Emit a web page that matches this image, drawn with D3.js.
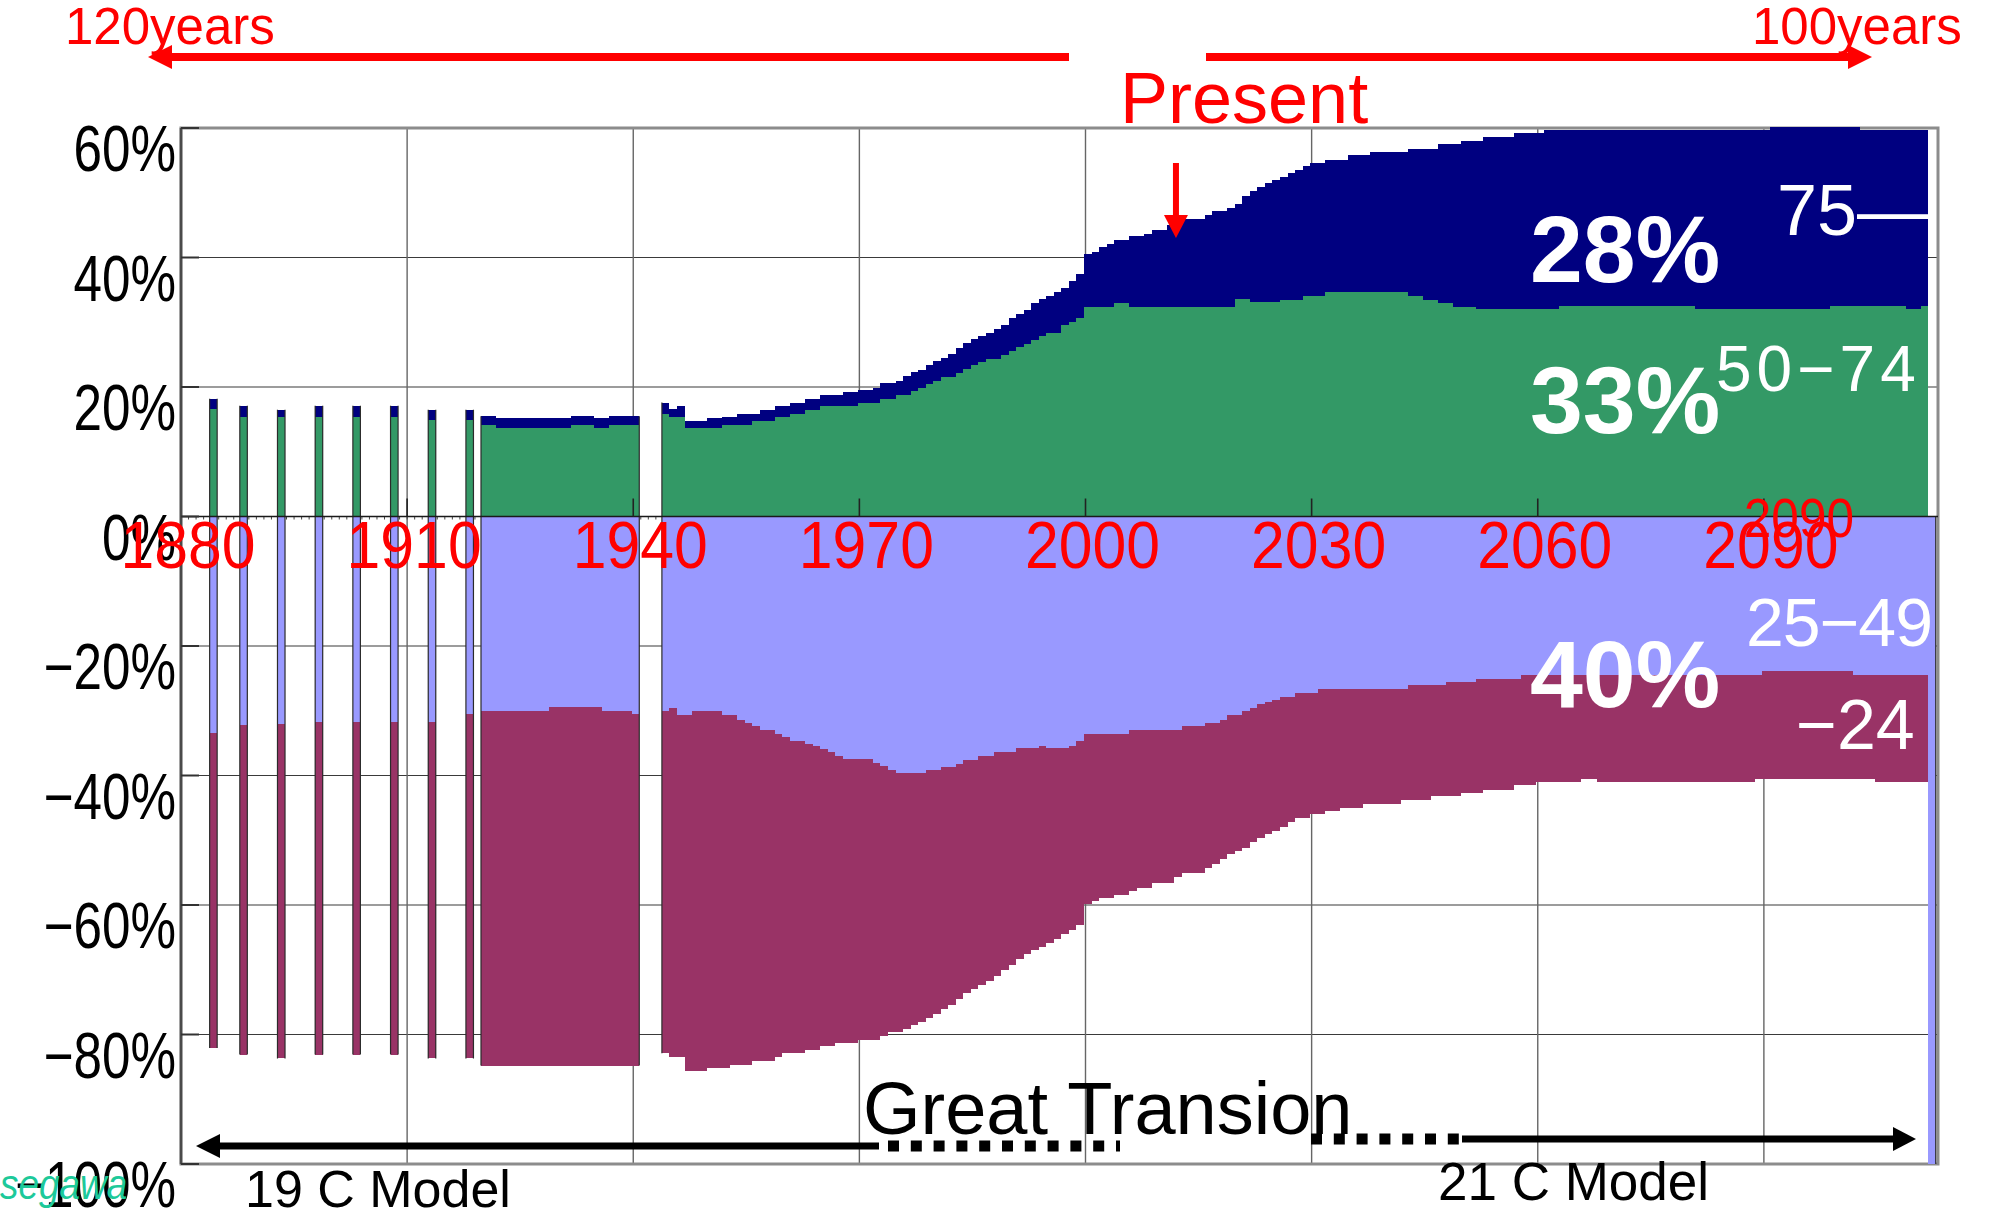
<!DOCTYPE html>
<html lang="en">
<head>
<meta charset="utf-8">
<title>Population by age group, 1880–2110</title>
<script src="https://cdn.jsdelivr.net/npm/d3@7"></script>
<style>
  html, body { margin: 0; padding: 0; background: #fff; }
  svg { display: block; font-family: "Liberation Sans", Arial, Helvetica, sans-serif; }
</style>
</head>
<body>
<svg id="chart" width="1990" height="1211"></svg>
<script>
// One bar per year (census years early on, then annual data and projection)
const years = [
  1884, 1888, 1893, 1898, 1903, 1908, 1913, 1918,
  1920, 1921, 1922, 1923, 1924, 1925, 1926, 1927, 1928, 1929,
  1930, 1931, 1932, 1933, 1934, 1935, 1936, 1937, 1938, 1939, 1940,
  1944, 1945, 1946, 1947, 1948, 1949,
  1950, 1951, 1952, 1953, 1954, 1955, 1956, 1957, 1958, 1959,
  1960, 1961, 1962, 1963, 1964, 1965, 1966, 1967, 1968, 1969,
  1970, 1971, 1972, 1973, 1974, 1975, 1976, 1977, 1978, 1979,
  1980, 1981, 1982, 1983, 1984, 1985, 1986, 1987, 1988, 1989,
  1990, 1991, 1992, 1993, 1994, 1995, 1996, 1997, 1998, 1999,
  2000, 2001, 2002, 2003, 2004, 2005, 2006, 2007, 2008, 2009,
  2010, 2011, 2012, 2013, 2014, 2015, 2016, 2017, 2018, 2019,
  2020, 2021, 2022, 2023, 2024, 2025, 2026, 2027, 2028, 2029,
  2030, 2031, 2032, 2033, 2034, 2035, 2036, 2037, 2038, 2039,
  2040, 2041, 2042, 2043, 2044, 2045, 2046, 2047, 2048, 2049,
  2050, 2051, 2052, 2053, 2054, 2055, 2056, 2057, 2058, 2059,
  2060, 2061, 2062, 2063, 2064, 2065, 2066, 2067, 2068, 2069,
  2070, 2071, 2072, 2073, 2074, 2075, 2076, 2077, 2078, 2079,
  2080, 2081, 2082, 2083, 2084, 2085, 2086, 2087, 2088, 2089,
  2090, 2091, 2092, 2093, 2094, 2095, 2096, 2097, 2098, 2099,
  2100, 2101, 2102, 2103, 2104, 2105, 2106, 2107, 2108, 2109,
  2110, 2111, 2112
];

// Share of total population by age group, % (ages 50+ plotted upward, under 50 downward)
const age50to74 = [
  16.6, 15.3, 15.3, 15.3, 15.3, 15.3, 14.9, 14.9,
  14.2, 14.2, 13.6, 13.6, 13.6, 13.6, 13.6, 13.6, 13.6, 13.6,
  13.6, 13.6, 14.2, 14.2, 14.2, 13.6, 13.6, 14.2, 14.2, 14.2, 14.2,
  15.9, 15.3, 15.3, 13.6, 13.6, 13.6,
  13.6, 13.6, 14.2, 14.2, 14.2, 14.2, 14.7, 14.8, 14.8, 15.3,
  15.3, 15.9, 15.9, 16.5, 16.5, 17.1, 17.1, 17.1, 17.1, 17.1,
  17.6, 17.6, 17.6, 18.2, 18.2, 18.8, 18.8, 19.4, 19.9, 20.4,
  21.0, 21.6, 21.6, 22.2, 22.8, 23.4, 23.9, 24.4, 24.4, 24.9,
  25.5, 26.2, 26.7, 27.3, 27.9, 28.3, 28.3, 29.6, 30.1, 30.6,
  32.3, 32.3, 32.3, 32.3, 33.0, 33.0, 32.3, 32.3, 32.3, 32.3,
  32.3, 32.3, 32.3, 32.3, 32.3, 32.3, 32.3, 32.3, 32.3, 32.3,
  33.6, 33.6, 33.1, 33.1, 33.1, 33.1, 33.5, 33.4, 33.4, 34.0,
  34.0, 34.0, 34.6, 34.6, 34.6, 34.6, 34.6, 34.6, 34.6, 34.6,
  34.6, 34.6, 34.6, 34.0, 34.0, 33.4, 33.4, 33.0, 33.0, 32.3,
  32.3, 32.3, 32.0, 32.0, 32.0, 32.0, 32.0, 32.0, 32.0, 32.0,
  32.0, 32.0, 32.0, 32.5, 32.5, 32.5, 32.5, 32.5, 32.5, 32.5,
  32.5, 32.5, 32.5, 32.5, 32.5, 32.5, 32.5, 32.5, 32.5, 32.5,
  32.5, 32.0, 32.0, 32.0, 32.0, 32.0, 32.0, 32.0, 32.0, 32.0,
  32.0, 32.0, 32.0, 32.0, 32.0, 32.0, 32.0, 32.0, 32.0, 32.5,
  32.5, 32.5, 32.5, 32.5, 32.5, 32.5, 32.5, 32.5, 32.5, 32.0,
  32.0, 32.5, 0
];
const age75plus = [
  1.6, 1.8, 1.2, 1.8, 1.8, 1.8, 1.6, 1.6,
  1.3, 1.3, 1.6, 1.6, 1.6, 1.6, 1.6, 1.6, 1.6, 1.6,
  1.6, 1.6, 1.3, 1.3, 1.3, 1.6, 1.6, 1.3, 1.3, 1.3, 1.3,
  1.7, 1.3, 1.8, 1.2, 1.2, 1.2,
  1.6, 1.6, 1.2, 1.2, 1.7, 1.7, 1.2, 1.7, 1.7, 1.8,
  1.8, 1.7, 1.7, 1.7, 1.7, 1.7, 1.7, 1.7, 2.2, 2.2,
  1.9, 1.9, 2.3, 2.4, 2.4, 2.2, 2.9, 2.9, 2.8, 3.0,
  3.0, 2.9, 3.5, 3.9, 4.0, 4.0, 4.0, 4.0, 4.6, 4.7,
  5.1, 5.1, 5.2, 5.7, 5.7, 5.8, 6.4, 5.7, 6.3, 6.9,
  8.2, 8.6, 9.3, 9.8, 9.7, 9.7, 11.0, 11.0, 11.4, 12.0,
  12.0, 12.7, 12.7, 13.6, 13.6, 13.6, 14.3, 14.9, 14.9, 15.4,
  14.7, 15.9, 17.2, 17.8, 18.4, 18.9, 19.0, 19.6, 20.1, 20.1,
  20.6, 20.6, 20.5, 20.5, 20.5, 21.2, 21.2, 21.2, 21.7, 21.7,
  21.7, 21.7, 21.7, 22.8, 22.8, 23.4, 23.4, 24.5, 24.5, 25.2,
  25.7, 25.7, 26.0, 26.6, 26.6, 26.6, 26.6, 27.2, 27.2, 27.2,
  27.2, 27.7, 27.7, 27.2, 27.2, 27.2, 27.2, 27.2, 27.2, 27.2,
  27.2, 27.2, 27.2, 27.2, 27.2, 27.2, 27.2, 27.2, 27.2, 27.2,
  27.2, 27.7, 27.7, 27.7, 27.7, 27.7, 27.7, 27.7, 27.7, 27.7,
  27.7, 28.2, 28.2, 28.2, 28.2, 28.2, 28.2, 28.2, 28.2, 27.7,
  27.7, 27.7, 27.7, 27.2, 27.2, 27.2, 27.2, 27.2, 27.2, 27.7,
  27.7, 27.2, 0
];
const age25to49 = [
  33.4, 32.2, 32.1, 31.7, 31.7, 31.7, 31.7, 30.5,
  30.0, 30.0, 30.0, 30.0, 30.0, 30.0, 30.0, 30.0, 30.0, 29.4,
  29.4, 29.4, 29.4, 29.4, 29.4, 29.4, 30.0, 30.0, 30.0, 30.0, 30.5,
  30.0, 29.5, 30.6, 30.6, 30.1, 30.1,
  30.1, 30.1, 30.6, 30.6, 31.4, 31.9, 32.4, 32.9, 32.9, 33.6,
  34.0, 34.6, 34.6, 35.2, 35.4, 35.9, 36.4, 37.0, 37.5, 37.5,
  37.5, 37.5, 38.0, 38.5, 39.1, 39.6, 39.6, 39.6, 39.6, 39.2,
  39.1, 38.7, 38.7, 38.2, 37.6, 37.6, 37.0, 37.0, 36.4, 36.4,
  36.4, 35.8, 35.8, 35.8, 35.4, 35.8, 35.8, 35.8, 35.4, 34.7,
  33.6, 33.6, 33.6, 33.6, 33.6, 33.6, 32.9, 32.9, 32.9, 32.9,
  32.9, 32.9, 32.9, 32.4, 32.4, 32.4, 31.9, 31.9, 31.4, 30.6,
  30.6, 30.1, 29.5, 29.0, 28.6, 28.4, 27.8, 27.8, 27.3, 27.3,
  27.3, 26.7, 26.7, 26.7, 26.7, 26.7, 26.7, 26.7, 26.7, 26.7,
  26.7, 26.7, 26.7, 26.1, 26.1, 26.1, 26.1, 26.1, 25.5, 25.5,
  25.5, 25.5, 25.1, 25.1, 25.1, 25.1, 25.1, 25.1, 24.5, 24.5,
  24.5, 24.5, 24.5, 24.5, 24.5, 24.5, 24.5, 24.5, 24.5, 24.5,
  24.5, 24.5, 24.5, 24.5, 24.5, 24.5, 24.5, 24.5, 24.5, 24.5,
  24.5, 24.5, 24.5, 24.5, 24.5, 24.5, 24.5, 24.5, 24.5, 24.5,
  23.9, 23.9, 23.9, 23.9, 23.9, 23.9, 23.9, 23.9, 23.9, 23.9,
  23.9, 23.9, 24.5, 24.5, 24.5, 24.5, 24.5, 24.5, 24.5, 24.5,
  24.5, 24.5, 100
];
const age0to24 = [
  48.7, 50.9, 51.6, 51.4, 51.4, 51.4, 52.0, 53.2,
  54.8, 54.8, 54.8, 54.8, 54.8, 54.8, 54.8, 54.8, 54.8, 55.4,
  55.4, 55.4, 55.4, 55.4, 55.4, 55.4, 54.8, 54.8, 54.8, 54.8, 54.3,
  52.9, 53.9, 52.8, 55.1, 55.6, 55.6,
  55.1, 55.1, 54.6, 54.1, 53.3, 52.8, 51.7, 51.2, 51.2, 49.8,
  48.9, 48.3, 48.3, 47.2, 47.0, 45.9, 45.4, 44.3, 43.8, 43.8,
  43.3, 43.3, 42.8, 41.8, 40.5, 40.0, 39.5, 38.9, 38.4, 38.3,
  37.7, 37.4, 36.7, 36.3, 36.0, 35.3, 35.4, 34.7, 34.6, 33.7,
  32.8, 32.6, 31.7, 31.1, 31.1, 30.1, 29.4, 28.7, 28.4, 28.4,
  26.3, 25.8, 25.3, 25.3, 24.8, 24.8, 24.9, 24.4, 24.4, 23.7,
  23.7, 23.7, 22.8, 22.6, 22.6, 22.6, 22.4, 21.7, 21.5, 21.6,
  21.1, 21.1, 20.8, 20.7, 20.5, 20.1, 20.1, 19.4, 19.3, 19.3,
  18.7, 19.3, 18.8, 18.8, 18.3, 18.3, 18.3, 17.7, 17.7, 17.7,
  17.7, 17.7, 17.1, 17.7, 17.7, 17.7, 17.1, 17.1, 17.7, 17.7,
  17.2, 17.2, 17.6, 17.1, 17.1, 17.1, 17.1, 16.4, 17.0, 17.0,
  16.5, 16.5, 16.5, 16.5, 16.5, 16.5, 16.0, 16.0, 16.5, 16.5,
  16.5, 16.5, 16.5, 16.5, 16.5, 16.5, 16.5, 16.5, 16.5, 16.5,
  16.5, 16.5, 16.5, 16.5, 16.5, 16.5, 16.5, 16.5, 16.5, 16.0,
  16.6, 16.6, 16.6, 16.6, 16.6, 16.6, 16.6, 16.6, 16.6, 16.6,
  16.6, 16.6, 16.0, 16.0, 16.0, 16.5, 16.5, 16.5, 16.5, 16.5,
  16.5, 16.5, 0
];

const yTickValues = [60, 40, 20, 0, -20, -40, -60, -80, -100];
const yTickLabels = ["60%", "40%", "20%", "0%", "\u221220%", "\u221240%", "\u221260%", "\u221280%", "\u2212100%"];
const xTickValues = [1880, 1910, 1940, 1970, 2000, 2030, 2060, 2090];
const xTickLabels = ["1880", "1910", "1940", "1970", "2000", "2030", "2060", "2090"];

const seriesKeys = ["age50to74", "age75plus", "age25to49", "age0to24"];
const seriesColors = {
  age50to74: "#339966",
  age75plus: "#000080",
  age25to49: "#9999ff",
  age0to24: "#993366"
};

// ---------------------------------------------------------------- layout
const svg = d3.select("#chart");
const plot = { left: 181, right: 1938, top: 128, bottom: 1164 };

const x = d3.scaleLinear().domain([1880, 2113.1]).range([plot.left, plot.right]);
const y = d3.scaleLinear().domain([-100, 60]).range([plot.bottom, plot.top]);
const barFrom = -0.2, barTo = 0.8;   // each bar covers [year-0.2, year+0.8]

// table for the diverging stack: under-50 groups go below the axis
const table = years.map((yr, i) => ({
  year: yr,
  age50to74: age50to74[i],
  age75plus: age75plus[i],
  age25to49: -age25to49[i],
  age0to24: -age0to24[i]
}));
const stacked = d3.stack().keys(seriesKeys).offset(d3.stackOffsetDiverging)(table);

// ---------------------------------------------------------------- grid
const grid = svg.append("g");
grid.selectAll("line.h").data(yTickValues).join("line")
  .attr("x1", plot.left).attr("x2", plot.right)
  .attr("y1", d => y(d)).attr("y2", d => y(d))
  .attr("stroke", "#3a3a3a").attr("stroke-width", 1.2);
grid.selectAll("line.v").data(xTickValues.slice(1)).join("line")
  .attr("x1", d => x(d)).attr("x2", d => x(d))
  .attr("y1", plot.top).attr("y2", plot.bottom)
  .attr("stroke", "#666").attr("stroke-width", 1.4);

// plot frame
svg.append("rect")
  .attr("x", plot.left).attr("y", plot.top)
  .attr("width", plot.right - plot.left).attr("height", plot.bottom - plot.top)
  .attr("fill", "none").attr("stroke", "#8c8c8c").attr("stroke-width", 3);

// minor ticks along the zero line (visible only in the gaps between bars)
svg.append("g").selectAll("line").data(d3.range(1881, 2113)).join("line")
  .attr("x1", d => x(d)).attr("x2", d => x(d))
  .attr("y1", y(0)).attr("y2", y(0) + 3)
  .attr("stroke", "#444").attr("stroke-width", 1);

// ---------------------------------------------------------------- bars
const bars = svg.append("g").attr("shape-rendering", "crispEdges");
stacked.forEach(layer => {
  bars.append("g").attr("fill", seriesColors[layer.key])
    .selectAll("rect")
    .data(layer.filter(d => d[1] !== d[0]))
    .join("rect")
    .attr("x", d => x(d.data.year + barFrom))
    .attr("width", d => x(d.data.year + barTo) - x(d.data.year + barFrom))
    .attr("y", d => y(Math.max(d[0], d[1])))
    .attr("height", d => Math.abs(y(d[0]) - y(d[1])));
});

// dark outline on the outer sides of each run of consecutive bars
const edges = [];
years.forEach((yr, i) => {
  const top = age50to74[i] + age75plus[i];
  const bottom = -(age25to49[i] + age0to24[i]);
  if (years[i - 1] !== yr - 1) edges.push({ pos: yr + barFrom, top, bottom });
  if (years[i + 1] !== yr + 1) edges.push({ pos: yr + barTo, top, bottom });
});
svg.append("g").selectAll("line").data(edges).join("line")
  .attr("x1", d => x(d.pos)).attr("x2", d => x(d.pos))
  .attr("y1", d => y(d.top)).attr("y2", d => y(d.bottom))
  .attr("stroke", "#2b2b2b").attr("stroke-width", 1.2);

// ---------------------------------------------------------------- axes
svg.append("line")
  .attr("x1", plot.left).attr("x2", plot.right)
  .attr("y1", y(0)).attr("y2", y(0))
  .attr("stroke", "#1a1a1a").attr("stroke-width", 1.6);
svg.append("line")
  .attr("x1", plot.left).attr("x2", plot.left)
  .attr("y1", plot.top).attr("y2", plot.bottom)
  .attr("stroke", "#4a4a4a").attr("stroke-width", 2.5);
// major ticks on the zero line
svg.append("g").selectAll("line").data(xTickValues.slice(1)).join("line")
  .attr("x1", d => x(d)).attr("x2", d => x(d))
  .attr("y1", y(0) - 18).attr("y2", y(0))
  .attr("stroke", "#222").attr("stroke-width", 1.6);
// inward ticks on the value axis
svg.append("g").selectAll("line").data(yTickValues).join("line")
  .attr("x1", plot.left).attr("x2", plot.left + 18)
  .attr("y1", d => y(d)).attr("y2", d => y(d))
  .attr("stroke", "#333").attr("stroke-width", 2);

// value-axis labels
svg.append("g").selectAll("text").data(yTickValues).join("text")
  .attr("transform", d => `translate(176,${y(d) + 43}) scale(0.8,1)`)
  .attr("text-anchor", "end")
  .attr("font-size", 64)
  .attr("fill", "#000")
  .text((d, i) => yTickLabels[i]);

// year labels
svg.append("g").selectAll("text").data(xTickValues).join("text")
  .attr("transform", d => `translate(${x(d) + 7},568) scale(0.92,1)`)
  .attr("text-anchor", "middle")
  .attr("font-size", 66)
  .attr("fill", "#ff0000")
  .text((d, i) => xTickLabels[i]);
svg.append("text")
  .attr("transform", `translate(${x(2090) + 35},537) scale(0.9,1)`)
  .attr("text-anchor", "middle")
  .attr("font-size", 55)
  .attr("fill", "#ff0000")
  .text("2090");

// ---------------------------------------------------------------- annotations
const red = "#ff0000";
svg.append("text").attr("x", 65).attr("y", 44).attr("font-size", 51).attr("fill", red).text("120years");
svg.append("text").attr("x", 1752).attr("y", 44).attr("font-size", 51).attr("fill", red).text("100years");
svg.append("text").attr("x", 1120).attr("y", 123).attr("font-size", 72).attr("fill", red).text("Present");

// time-span arrows
svg.append("line").attr("x1", 168).attr("x2", 1069).attr("y1", 57).attr("y2", 57)
  .attr("stroke", red).attr("stroke-width", 8);
svg.append("path").attr("d", "M148,57 L172,45 L172,69 Z").attr("fill", red);
svg.append("line").attr("x1", 1206).attr("x2", 1852).attr("y1", 57).attr("y2", 57)
  .attr("stroke", red).attr("stroke-width", 8);
svg.append("path").attr("d", "M1872,57 L1848,45 L1848,69 Z").attr("fill", red);
// "present" marker
svg.append("line").attr("x1", x(2012)).attr("x2", x(2012)).attr("y1", 163).attr("y2", 218)
  .attr("stroke", red).attr("stroke-width", 6);
svg.append("path")
  .attr("d", `M${x(2012)},238 L${x(2012) - 12},215 L${x(2012) + 12},215 Z`)
  .attr("fill", red);

// group shares and age labels
const bold = svg.append("g").attr("fill", "#fff").attr("font-weight", "bold").attr("font-size", 95);
bold.append("text").attr("x", 1530).attr("y", 282).text("28%");
bold.append("text").attr("x", 1530).attr("y", 433).text("33%");
bold.append("text").attr("x", 1530).attr("y", 707).text("40%");

const ages = svg.append("g").attr("fill", "#fff");
ages.append("text").attr("x", 1777).attr("y", 235).attr("font-size", 72).text("75\u2014");
ages.append("text").attr("x", 1716).attr("y", 391).attr("font-size", 64)
  .attr("letter-spacing", 5).text("50\u221274");
ages.append("text").attr("x", 1746).attr("y", 646).attr("font-size", 68)
  .attr("letter-spacing", -1).text("25\u221249");
ages.append("text").attr("x", 1796).attr("y", 749).attr("font-size", 70).text("\u221224");

// model arrows along the bottom
const ink = "#000";
svg.append("path").attr("d", "M196,1146 L220,1134 L220,1158 Z").attr("fill", ink);
svg.append("line").attr("x1", 215).attr("x2", 879).attr("y1", 1146).attr("y2", 1146)
  .attr("stroke", ink).attr("stroke-width", 7);
svg.append("line").attr("x1", 888).attr("x2", 1120).attr("y1", 1146).attr("y2", 1146)
  .attr("stroke", ink).attr("stroke-width", 11).attr("stroke-dasharray", "11 11.8");
svg.append("line").attr("x1", 1311).attr("x2", 1466).attr("y1", 1139).attr("y2", 1139)
  .attr("stroke", ink).attr("stroke-width", 11).attr("stroke-dasharray", "11 11.8");
svg.append("line").attr("x1", 1462).attr("x2", 1898).attr("y1", 1139).attr("y2", 1139)
  .attr("stroke", ink).attr("stroke-width", 7);
svg.append("path").attr("d", "M1916,1139 L1893,1127 L1893,1151 Z").attr("fill", ink);

svg.append("text").attr("x", 863).attr("y", 1134).attr("font-size", 74).attr("fill", ink).text("Great Transion");
svg.append("text").attr("x", 245).attr("y", 1207).attr("font-size", 52).attr("fill", ink).text("19 C Model");
svg.append("text").attr("x", 1438).attr("y", 1200).attr("font-size", 53).attr("fill", ink).text("21 C Model");

svg.append("text")
  .attr("transform", "translate(0,1199) scale(0.88,1)")
  .attr("font-size", 42).attr("font-style", "italic")
  .attr("fill", "#1dc99a")
  .text("segawa");
</script>
</body>
</html>
